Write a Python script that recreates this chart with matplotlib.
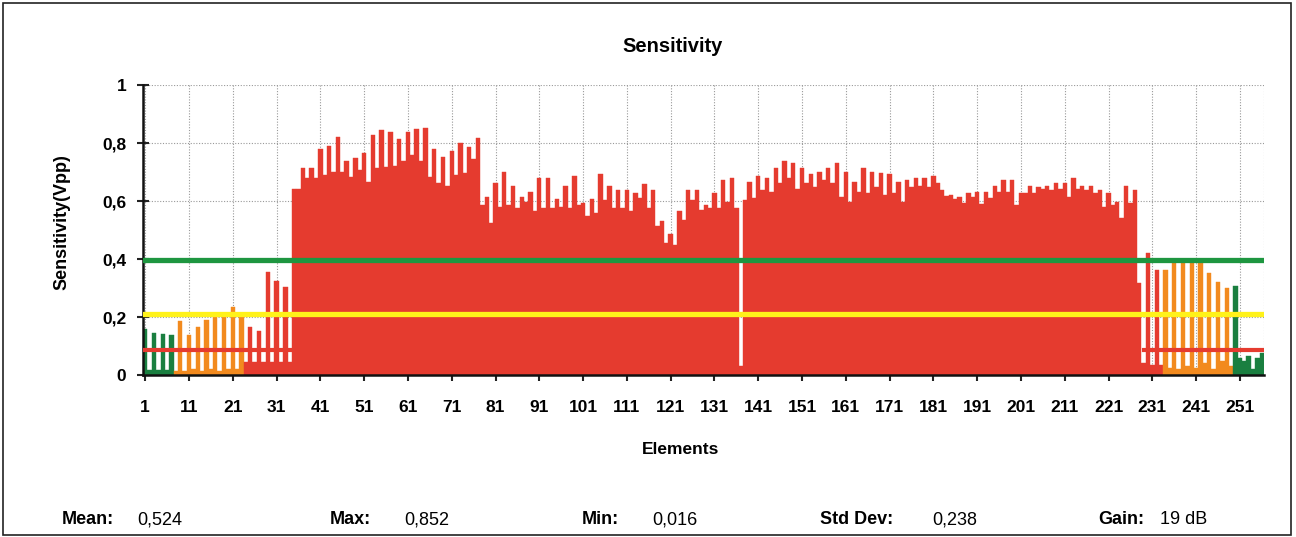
import numpy as np
import matplotlib
matplotlib.use("Agg")
import matplotlib.pyplot as plt
from matplotlib.patches import Rectangle

plt.rcParams['font.family'] = ['Liberation Sans', 'DejaVu Sans']

# Data
elements = np.arange(1, 257)
sensitivity = [
    0.160, 0.017, 0.146, 0.017, 0.140, 0.017, 0.138, 0.015, 0.187, 0.015,
    0.138, 0.020, 0.167, 0.015, 0.190, 0.020, 0.199, 0.015, 0.199, 0.020,
    0.234, 0.020, 0.199, 0.045, 0.164, 0.045, 0.153, 0.045, 0.356, 0.045,
    0.324, 0.045, 0.305, 0.045, 0.640, 0.640, 0.713, 0.678, 0.713, 0.680,
    0.780, 0.690, 0.790, 0.700, 0.820, 0.700, 0.739, 0.684, 0.747, 0.707,
    0.767, 0.667, 0.828, 0.713, 0.845, 0.718, 0.839, 0.720, 0.813, 0.739,
    0.839, 0.759, 0.848, 0.739, 0.852, 0.684, 0.779, 0.661, 0.753, 0.652,
    0.773, 0.690, 0.801, 0.695, 0.785, 0.744, 0.818, 0.586, 0.613, 0.523,
    0.661, 0.580, 0.701, 0.586, 0.653, 0.575, 0.613, 0.598, 0.632, 0.567,
    0.680, 0.575, 0.678, 0.575, 0.606, 0.578, 0.652, 0.575, 0.686, 0.586,
    0.594, 0.548, 0.606, 0.560, 0.693, 0.603, 0.652, 0.575, 0.638, 0.575,
    0.638, 0.567, 0.626, 0.609, 0.659, 0.575, 0.638, 0.514, 0.532, 0.454,
    0.486, 0.448, 0.567, 0.534, 0.638, 0.603, 0.638, 0.569, 0.586, 0.575,
    0.626, 0.575, 0.672, 0.598, 0.678, 0.575, 0.030, 0.603, 0.667, 0.609,
    0.686, 0.638, 0.678, 0.632, 0.713, 0.663, 0.739, 0.678, 0.732, 0.640,
    0.713, 0.661, 0.693, 0.647, 0.701, 0.672, 0.713, 0.661, 0.732, 0.615,
    0.701, 0.598, 0.667, 0.632, 0.713, 0.626, 0.701, 0.649, 0.698, 0.621,
    0.693, 0.626, 0.667, 0.598, 0.672, 0.649, 0.678, 0.652, 0.678, 0.649,
    0.686, 0.661, 0.638, 0.617, 0.621, 0.606, 0.613, 0.594, 0.626, 0.615,
    0.632, 0.590, 0.632, 0.609, 0.652, 0.632, 0.672, 0.632, 0.672, 0.586,
    0.626, 0.626, 0.652, 0.626, 0.647, 0.640, 0.652, 0.638, 0.661, 0.640,
    0.661, 0.615, 0.678, 0.640, 0.652, 0.638, 0.652, 0.626, 0.638, 0.580,
    0.626, 0.586, 0.598, 0.540, 0.652, 0.594, 0.638, 0.316, 0.040, 0.420,
    0.035, 0.362, 0.035, 0.362, 0.025, 0.391, 0.020, 0.397, 0.030, 0.398,
    0.025, 0.397, 0.040, 0.353, 0.020, 0.322, 0.050, 0.301, 0.030, 0.308,
    0.060, 0.050, 0.065, 0.020, 0.060, 0.075,
]
# colour zone per element: (zone, count)
zone_runs = [('g', 7), ('o', 16), ('r', 210), ('o', 16), ('g', 7)]
zone_colors = {'g': '#1a7f40', 'o': '#f28a1e', 'r': '#e53b2f'}

green_limit = 0.395
yellow_limit = 0.21
red_limit = 0.085
red_limit_ranges = [(1, 34), (229, 256)]

x_ticks = list(range(1, 257, 10))
y_ticks = [0, 0.2, 0.4, 0.6, 0.8, 1.0]
y_tick_labels = ['0', '0,2', '0,4', '0,6', '0,8', '1']

stat_names = ['Mean:', 'Max:', 'Min:', 'Std Dev:', 'Gain:']
stat_values = ['0,524', '0,852', '0,016', '0,238', '19 dB']

zones = []
for z, n in zone_runs:
    zones += [z] * n
bar_colors = [zone_colors[z] for z in zones]

fig = plt.figure(figsize=(12.96, 5.37), dpi=100)
W, H = 1296, 537
ax = fig.add_axes([143 / W, 1 - 375 / H, (1264 - 143) / W, (375 - 85) / H])

ax.bar(elements, sensitivity, width=1.0, color=bar_colors,
       edgecolor=bar_colors, linewidth=0.3, zorder=2)

# limit lines
ax.plot(elements, [green_limit] * len(elements), color='#1e9640', lw=3.8, zorder=4)
ax.plot(elements, [yellow_limit] * len(elements), color='#fff21a', lw=3.8, zorder=4)
for a, b in red_limit_ranges:
    xs = np.arange(a, b + 1)
    ax.plot(xs, [red_limit] * len(xs), color='#e53b2f', lw=3.0, zorder=4)

ax.set_xlim(0.5, 256.5)
ax.set_ylim(0, 1)
ax.set_xticks(x_ticks)
ax.set_xticklabels([str(t) for t in x_ticks], fontsize=12.5, fontweight='bold')
ax.set_yticks(y_ticks)
ax.set_yticklabels(y_tick_labels, fontsize=12.5, fontweight='bold')
ax.tick_params(direction='inout', length=8, width=1.5, color='#222222')
ax.tick_params(axis='x', pad=14)
ax.tick_params(axis='y', pad=8)

ax.set_axisbelow(True)
ax.grid(True, color='#999999', linestyle=(0, (1, 1.5)), linewidth=0.8)
ax.axvline(256.5, color='#999999', linestyle=(0, (1, 1.5)), linewidth=0.8, zorder=1)

for s in ['top', 'right']:
    ax.spines[s].set_visible(False)
for s in ['left', 'bottom']:
    ax.spines[s].set_linewidth(1.8)
    ax.spines[s].set_color('#111111')

fig.text(673 / W, 1 - 47 / H, 'Sensitivity', ha='center', va='center',
         fontsize=14.5, fontweight='bold')
fig.text(62 / W, 1 - 222 / H, 'Sensitivity(Vpp)', ha='center', va='center',
         rotation=90, fontsize=13, fontweight='bold')
fig.text(681 / W, 1 - 449 / H, 'Elements', ha='center', va='center',
         fontsize=12.5, fontweight='bold')

name_x = [62, 330, 582, 820, 1098]
value_x = [137, 404, 652, 932, 1160]
for nm, val, nx, vx in zip(stat_names, stat_values, name_x, value_x):
    fig.text(nx / W, 1 - 520 / H, nm, ha='left', va='center', fontsize=13, fontweight='bold')
    fig.text(vx / W, 1 - 520 / H, val, ha='left', va='center', fontsize=13)

fig.patches.append(Rectangle((3 / W, 2 / H), 1288 / W, 532 / H, transform=fig.transFigure,
                             fill=False, edgecolor='#222222', linewidth=1.2))

fig.savefig('out.png', dpi=100)
